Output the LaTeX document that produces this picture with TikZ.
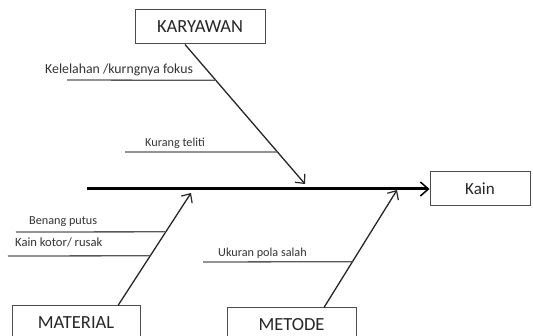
\documentclass[tikz,border=0pt]{standalone}
\usepackage{fontspec}
\setmainfont{Carlito}
\usetikzlibrary{arrows.meta,calc}
\begin{document}
\begin{tikzpicture}[x=1pt,y=-1pt,
  box/.style={draw=black!70, line width=1pt, fill=white, inner sep=0pt, font=\fontsize{18.5}{20}\selectfont, text=black!85},
  bone/.style={draw=black!85, line width=1.3pt, -{Straight Barb[length=7pt,width=13pt,line width=1.2pt]}},
  spine/.style={draw=black, line width=3pt, -{Straight Barb[length=8pt,width=14pt,line width=1.5pt]}},
  sub/.style={draw=black!65, line width=1.3pt},
  lbl/.style={inner sep=0pt, anchor=base west, text=black!80, font=\fontsize{12.2}{14}\selectfont}]
\useasboundingbox (0,0) rectangle (533,336);
\clip (0,0) rectangle (533,336);

\node[box, minimum width=130pt, minimum height=34pt] (kar) at (200,27) {KARYAWAN};
\node[box, minimum width=100pt, minimum height=34pt, font=\fontsize{17}{19}\selectfont] (kain) at (480,189) {Kain};
\node[box, minimum width=128pt, minimum height=34pt] (mat) at (76,323) {MATERIAL};
\node[box, minimum width=129pt, minimum height=34pt] (met) at (291.5,325) {METODE};

\coordinate (s0) at (87,189);
\draw[spine] (s0) -- (kain.west);

\coordinate (k1) at ([xshift=-15pt]kar.south);
\coordinate (k2) at (305,184);
\draw[bone] (k1) -- (k2);

\coordinate (m1) at ([xshift=42pt]mat.north);
\coordinate (m2) at (191,193);
\draw[bone] (m1) -- (m2);

\coordinate (t1) at ([xshift=32.5pt]met.north);
\coordinate (t2) at (397,190);
\draw[bone] (t1) -- (t2);

% Karyawan causes
\coordinate (a1) at (67,80);
\draw[sub] (a1) -- ($(k1)!0.257!(k2)$);
\node[lbl, font=\fontsize{13.8}{16}\selectfont] (la1) at (45,74) {Kelelahan /kurngnya fokus};
\coordinate (a2) at (125,152);
\draw[sub] (a2) -- ($(k1)!0.771!(k2)$);
\node[lbl] (la2) at (145,147) {Kurang teliti};

% Material causes
\coordinate (b1) at (16,232);
\draw[sub] (b1) -- ($(m1)!0.655!(m2)$);
\node[lbl] (lb1) at (29,225) {Benang putus};
\coordinate (b2) at (8,256);
\draw[sub] (b2) -- ($(m1)!0.442!(m2)$);
\node[lbl, font=\fontsize{12.6}{14}\selectfont] (lb2) at (15,247) {Kain kotor/ rusak};

% Metode causes
\coordinate (c1) at (203,262);
\draw[sub] (c1) -- ($(t1)!0.39!(t2)$);
\node[lbl] (lc1) at (218,257) {Ukuran pola salah};
\end{tikzpicture}
\end{document}
